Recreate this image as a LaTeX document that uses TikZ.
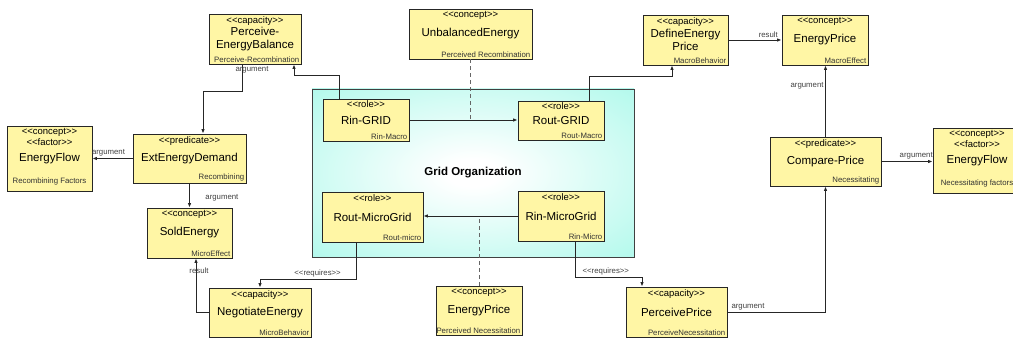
\documentclass[tikz,border=0pt]{standalone}
\usepackage{fontspec}
\setmainfont{Liberation Sans}
\usetikzlibrary{arrows.meta,shadows}

\definecolor{boxfill}{RGB}{255,246,165}
\definecolor{gridcyan}{RGB}{178,249,236}
\newcommand{\stereo}[1]{<{}<#1>{}>}

\pgfdeclareradialshading{gridglow}{\pgfpoint{0bp}{0bp}}{color(0bp)=(white); color(4bp)=(white); color(36bp)=(gridcyan); color(50bp)=(gridcyan)}

\tikzset{
  box/.style={draw=black!85, fill=boxfill, line width=0.8pt, inner sep=0pt,
    minimum width=86pt, minimum height=50pt,
    drop shadow={shadow xshift=1.2pt, shadow yshift=-1.2pt, fill=black!45, opacity=1}},
  stereotype/.style={anchor=north, inner sep=2.5pt, align=center, font=\fontsize{9.5}{11}\selectfont},
  title/.style={inner sep=0pt, align=center, font=\fontsize{11.5}{13.5}\selectfont},
  tag/.style={anchor=south east, inner sep=2pt, text=black!80, font=\fontsize{7.8}{9}\selectfont},
  lbl/.style={inner sep=1.5pt, text=black!75, font=\fontsize{7.8}{9}\selectfont},
  link/.style={draw=black!85, line width=0.9pt, -{Latex[length=4.5pt,width=3.5pt]}},
  trace/.style={draw=black!60, line width=0.9pt, dash pattern=on 4pt off 3pt},
  gridorg/.style={draw=black!75, line width=0.8pt, shade, shading=gridglow, inner sep=0pt,
    font=\bfseries\fontsize{11.5}{13.5}\selectfont}
}

\begin{document}
\begin{tikzpicture}[x=1pt,y=-1pt]
  \useasboundingbox (0,0) rectangle (1013,339);

  % organization
  \node[gridorg, minimum width=322pt, minimum height=168pt] (grid) at (473,173) {Grid Organization};

  \node[box, minimum height=42pt] (rinG) at (366,120) {};
  \node[stereotype, inner sep=1.5pt] (rinG-st) at (rinG.north) {\stereo{role}};
  \node[title] (rinG-t) at (rinG.center) {Rin-GRID};
  \node[tag] (rinG-tag) at (rinG.south east) {Rin-Macro};

  \node[box, minimum height=39pt] (routG) at (561,120.5) {};
  \node[stereotype, inner sep=1.5pt] (routG-st) at (routG.north) {\stereo{role}};
  \node[title] (routG-t) at (routG.center) {Rout-GRID};
  \node[tag] (routG-tag) at (routG.south east) {Rout-Macro};

  \node[box, minimum width=101pt] (routM) at (372.5,217) {};
  \node[stereotype] (routM-st) at (routM.north) {\stereo{role}};
  \node[title] (routM-t) at (routM.center) {Rout-MicroGrid};
  \node[tag] (routM-tag) at (routM.south east) {Rout-micro};

  \node[box] (rinM) at (561,216) {};
  \node[stereotype] (rinM-st) at (rinM.north) {\stereo{role}};
  \node[title] (rinM-t) at (rinM.center) {Rin-MicroGrid};
  \node[tag] (rinM-tag) at (rinM.south east) {Rin-Micro};

  % recombination side
  \node[box, minimum width=92pt] (peb) at (255,39) {};
  \node[stereotype] (peb-st) at (peb.north) {\stereo{capacity}};
  \node[title] (peb-t) at (peb.center) {Perceive-\\EnergyBalance};
  \node[tag] (peb-tag) at (peb.south east) {Perceive-Recombination};

  \node[box, minimum width=85pt, minimum height=65pt] (flowL) at (49.5,158.5) {};
  \node[stereotype] (flowL-st) at (flowL.north) {\stereo{concept}\\\stereo{factor}};
  \node[title] (flowL-t) at (flowL.center) {EnergyFlow};
  \node[tag, anchor=south, yshift=4pt] (flowL-tag) at (flowL.south) {Recombining Factors};

  \node[box, minimum width=113pt, minimum height=49pt] (eed) at (189.5,158.5) {};
  \node[stereotype] (eed-st) at (eed.north) {\stereo{predicate}};
  \node[title] (eed-t) at (eed.center) {ExtEnergyDemand};
  \node[tag] (eed-tag) at (eed.south east) {Recombining};

  \node[box, minimum width=85pt] (sold) at (189.5,233) {};
  \node[stereotype] (sold-st) at (sold.north) {\stereo{concept}};
  \node[title] (sold-t) at (sold.center) {SoldEnergy};
  \node[tag] (sold-tag) at (sold.south east) {MicroEffect};

  \node[box, minimum width=102pt, minimum height=49pt] (nego) at (260,312.5) {};
  \node[stereotype] (nego-st) at (nego.north) {\stereo{capacity}};
  \node[title] (nego-t) at (nego.center) {NegotiateEnergy};
  \node[tag] (nego-tag) at (nego.south east) {MicroBehavior};

  \node[box, minimum width=123pt] (unb) at (470.5,34) {};
  \node[stereotype] (unb-st) at (unb.north) {\stereo{concept}};
  \node[title] (unb-t) at (unb.center) {UnbalancedEnergy};
  \node[tag] (unb-tag) at (unb.south east) {Perceived Recombination};

  % necessitation side
  \node[box, minimum height=49pt] (priceB) at (479,310.5) {};
  \node[stereotype] (priceB-st) at (priceB.north) {\stereo{concept}};
  \node[title] (priceB-t) at (priceB.center) {EnergyPrice};
  \node[tag] (priceB-tag) at (priceB.south east) {Perceived Necessitation};

  \node[box, minimum width=85pt] (dep) at (685.5,40) {};
  \node[stereotype] (dep-st) at (dep.north) {\stereo{capacity}};
  \node[title] (dep-t) at (dep.center) {DefineEnergy\\Price};
  \node[tag] (dep-tag) at (dep.south east) {MacroBehavior};

  \node[box] (priceT) at (825,40) {};
  \node[stereotype] (priceT-st) at (priceT.north) {\stereo{concept}};
  \node[title] (priceT-t) at (priceT.center) {EnergyPrice};
  \node[tag] (priceT-tag) at (priceT.south east) {MacroEffect};

  \node[box, minimum width=111pt, minimum height=49pt] (cmp) at (825.5,161.5) {};
  \node[stereotype] (cmp-st) at (cmp.north) {\stereo{predicate}};
  \node[title] (cmp-t) at (cmp.center) {Compare-Price};
  \node[tag] (cmp-tag) at (cmp.south east) {Necessitating};

  \node[box, minimum width=88pt, minimum height=65pt] (flowR) at (977,160.5) {};
  \node[stereotype] (flowR-st) at (flowR.north) {\stereo{concept}\\\stereo{factor}};
  \node[title] (flowR-t) at (flowR.center) {EnergyFlow};
  \node[tag, anchor=south, yshift=4pt] (flowR-tag) at (flowR.south) {Necessitating factors};

  \node[box, minimum width=101pt] (pp) at (676.5,312) {};
  \node[stereotype] (pp-st) at (pp.north) {\stereo{capacity}};
  \node[title] (pp-t) at (pp.center) {PerceivePrice};
  \node[tag] (pp-tag) at (pp.south east) {PerceiveNecessitation};

  % connectors
  \draw[link] ([xshift=-13pt]peb.south) node[lbl, anchor=north, xshift=10pt]{argument} -- ++(0,27) -| ([xshift=13.5pt]eed.north);
  \draw[link] ([xshift=-27pt]rinG.north) -- ++(0,-23) -| ([xshift=39pt]peb.south);
  \draw[link] (eed.west) -- node[lbl, above, pos=0.6]{argument} (eed.west -| flowL.east);
  \draw[link] (eed.south) -- node[lbl, anchor=west, xshift=14pt, pos=0.6]{argument} (sold.north);
  \draw[link] (nego.west) -| node[lbl, pos=0.89, xshift=3pt]{result} ([xshift=6.5pt]sold.south);
  \draw[link] ([xshift=-16.5pt]routM.south) -- ++(0,37) -| node[lbl, above, pos=0.2]{\stereo{requires}} (nego.north);

  \draw[link] (rinG.east) -- (rinG.east -| routG.west);
  \draw[trace] (unb.south) -- (unb.south |- rinG.east);
  \draw[link] (rinM.west) -- (rinM.west -| routM.east);
  \draw[trace] (priceB.north) -- (priceB.north |- rinM.west);

  \draw[link] ([xshift=14pt]rinM.south) -- ++(0,36) -| node[lbl, above, pos=0.23]{\stereo{requires}} ([xshift=-34.5pt]pp.north);
  \draw[link] ([xshift=28pt]routG.north) -- ++(0,-24) -| ([xshift=-13.5pt]dep.south);
  \draw[link] (dep.east) -- node[lbl, above, pos=0.75]{result} (priceT.west);
  \draw[link] (cmp.north) -- node[lbl, left, pos=0.72]{argument} (cmp.north |- priceT.south);
  \draw[link] (cmp.east) -- node[lbl, above, pos=0.68]{argument} (cmp.east -| flowR.west);
  \draw[link] (pp.east) -| node[lbl, above, pos=0.105]{argument} (cmp.south);
\end{tikzpicture}
\end{document}
